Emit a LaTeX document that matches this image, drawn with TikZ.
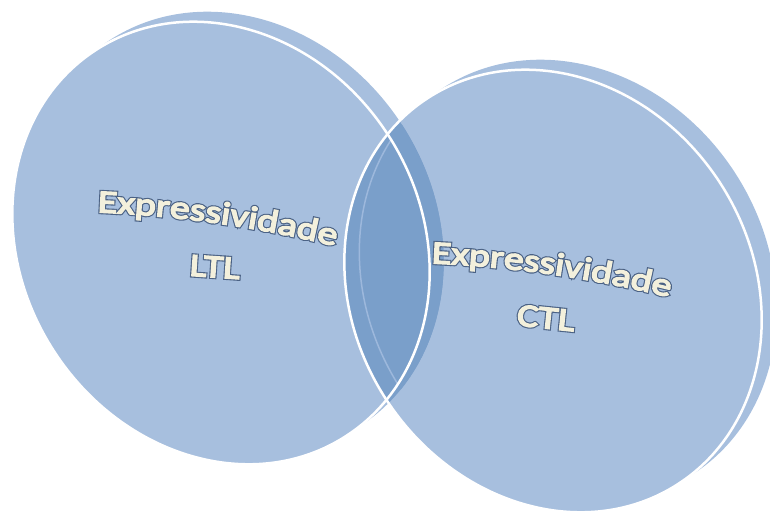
\documentclass[tikz,border=0pt]{standalone}
\usepackage{fontspec}
\usetikzlibrary{decorations.text}
\newfontface\txtfill{Carlito}[FakeBold=5, FakeStretch=1.25]
\newfontface\txtoutl{Carlito}[FakeBold=12, FakeStretch=1.25]
\definecolor{lightblue}{HTML}{A7BFDE}
\definecolor{darkblue}{HTML}{7A9FCA}
\definecolor{rimline}{HTML}{9DB8DC}
\definecolor{cream}{HTML}{F3F0DC}
\definecolor{outl}{HTML}{4B6285}
\newcommand\wordart[1]{{\fontsize{32}{34}\selectfont\rlap{\txtoutl\color{outl}#1}{\txtfill\color{cream}#1}}}
\begin{document}
\begin{tikzpicture}[x=1pt,y=1pt,
  ell/.style={x radius=199, y radius=230},
  label/.style={inner sep=0pt, anchor=center},
  arcouter/.style={decorate, decoration={text along path, text align=center,
      text={|\fontsize{32}{34}\selectfont\txtoutl\color{outl}|#1}}},
  arcinner/.style={decorate, decoration={text along path, text align=center,
      text={|\fontsize{32}{34}\selectfont\txtfill\color{cream}|#1}}}]
\useasboundingbox (0,0) rectangle (770,512);
\coordinate (Lc) at (221,269);
\coordinate (Ls) at (235,279);
\coordinate (Rc) at (553,221);
\coordinate (Rs) at (568,231);
% light fills (rims behind, fronts)
\fill[lightblue, rotate around={33:(Ls)}] (Ls) ellipse [ell];
\fill[lightblue, rotate around={33:(Rs)}] (Rs) ellipse [ell];
\fill[lightblue, rotate around={33:(Lc)}] (Lc) ellipse [ell];
\fill[lightblue, rotate around={33:(Rc)}] (Rc) ellipse [ell];
% darker overlap
\begin{scope}
  \clip[rotate around={33:(Rc)}] (Rc) ellipse [ell];
  \fill[darkblue, rotate around={33:(Lc)}] (Lc) ellipse [ell];
  \fill[darkblue, rotate around={33:(Ls)}] (Ls) ellipse [ell];
\end{scope}
\begin{scope}
  \clip[rotate around={33:(Rs)}] (Rs) ellipse [ell];
  \fill[darkblue, rotate around={33:(Lc)}] (Lc) ellipse [ell];
  \fill[darkblue, rotate around={33:(Ls)}] (Ls) ellipse [ell];
\end{scope}
% faint rim edge inside the overlap
\begin{scope}
  \clip[rotate around={33:(Rc)}] (Rc) ellipse [ell];
  \begin{scope}
    \clip[rotate around={33:(Lc)}] (Lc) ellipse [ell];
    \draw[rimline, line width=1.5, rotate around={33:(Rs)}] (Rs) ellipse [ell];
  \end{scope}
\end{scope}
% white outlines
\draw[white, line width=2.5, rotate around={33:(Lc)}] (Lc) ellipse [ell];
\draw[white, line width=2.5, rotate around={33:(Rc)}] (Rc) ellipse [ell];
% texts
\coordinate (la) at (78,300.5);
\coordinate (lb) at (354,261);
\coordinate (ra) at (412,249.5);
\coordinate (rb) at (688,210);
\path[arcouter=Expressividade] (la) .. controls (170,298) and (265,285) .. (lb);
\path[arcinner=Expressividade] (la) .. controls (170,298) and (265,285) .. (lb);
\path[arcouter=Expressividade] (ra) .. controls (504,247) and (599,234) .. (rb);
\path[arcinner=Expressividade] (ra) .. controls (504,247) and (599,234) .. (rb);
\node[label, rotate=-4] (l2) at (215,245) {\wordart{LTL}};
\node[label, rotate=-6] (r2) at (546,194) {\wordart{CTL}};
\end{tikzpicture}
\end{document}
